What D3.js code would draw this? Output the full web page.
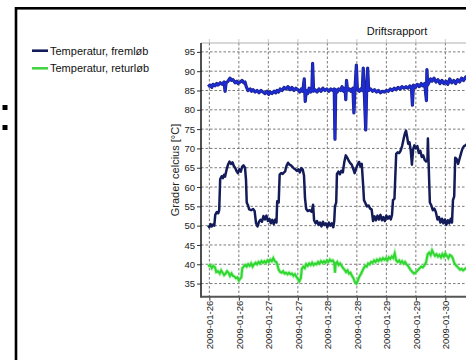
<!DOCTYPE html>
<html><head><meta charset="utf-8">
<script src="https://cdn.jsdelivr.net/npm/d3@7"></script>
<style>body{margin:0;background:#fff}svg{display:block;font-family:"Liberation Sans",Arial,sans-serif}</style>
</head><body><svg id="c" width="466" height="360"></svg>
<script>
// hours since 2009-01-26 00:00
const navyT=[-0.5,0,0.5,1,1.5,2,2.4,3,3.6,4,4.4,5,5.5,6,6.4,7,7.6,8.2,8.8,9.4,10,10.5,11,11.6,12.2,12.8,13.3,13.9,14.5,14.9,15.2,15.7,16.2,17,17.8,18.4,19,19.6,20.2,20.8,21.4,22,22.6,23.2,23.8,24.4,25,25.6,26.2,26.8,27.3,27.6,28.2,28.6,29.2,29.8,30.4,30.8,31.4,32,32.6,33.2,33.8,34.4,35,35.6,36.2,36.8,37.4,38,38.5,38.9,39.4,40,40.8,41.6,42.2,42.6,43.2,43.8,44.4,45,45.6,46.2,46.8,47.4,48,48.6,49.2,49.8,50.4,50.8,51.1,51.6,51.9,52.5,53.1,53.7,54.3,54.9,55.5,56.1,56.7,57.3,57.9,58.5,59.1,59.7,60.3,60.9,61.5,62,62.6,62.9,63.5,64.1,64.8,65.4,66,66.6,67.2,67.8,68.4,69,69.6,70.2,70.8,71.4,72,72.6,73.2,73.8,74.3,74.7,75.3,76,76.6,77.2,77.8,78.4,79,79.6,80,80.4,80.9,81.4,81.9,82.4,82.9,83.4,84,84.6,85.2,85.8,86.4,87,87.6,88.2,88.7,88.9,89.2,89.7,90.3,90.9,91.5,92.1,92.8,93.4,94,94.6,95.2,95.8,96.4,97,97.6,98.2,98.7,99.1,99.6,100,100.6,101.2,101.8,102.4,103,103.6,104.2,105];
const navyV=[50,49.6,50.4,49.8,50.3,50,52.8,53.5,53.2,54,62,62.8,62.3,63.2,62.7,64.5,65.8,66.6,66,66.4,65.4,65,64.2,63.6,64.6,64,65.2,65.6,65,62,56,55.3,54.2,54,54.3,53.8,50.6,49.8,51,51.5,51,52.5,51.6,52.6,51.2,51.8,50.6,51.5,50.4,51.6,50.8,56.3,56,63.2,63.6,63.4,63.8,64,65.5,66.3,65.8,65.6,65.2,64.8,64.6,64.2,64.6,63.8,64.9,64.5,63,57.2,54.3,53.8,54,53.6,55.4,51.4,50.6,51.2,50.2,50.8,49.8,51,50.2,50.6,49.6,50.8,50,50.6,49.6,51.2,55,56,63.4,64,63.3,64.2,63.8,66.5,68.2,67.6,66.8,66.2,65.8,64.8,63.6,64.8,65.8,66.5,65.3,66,60,56.6,55.8,55,55.2,54.4,54.2,51.2,52.4,51.4,52.6,51.6,52.8,51.4,52.2,51.2,52.6,51.8,52.4,51.6,52.8,56.6,57,68.6,69,68.8,69.4,70.6,72.4,74,74.6,73.2,71.2,71.6,69.6,65.8,69.8,70.8,70,70.6,68.8,69.4,67.8,68.2,67,66.6,66.8,72.6,66,56,55.2,54,54.4,53.6,51.6,52.2,50.8,51.8,50.6,51.6,50.2,51.4,50.6,51.8,50.8,56.6,57.6,67.6,67.2,66,67.4,68.8,70,70.6,70.8,71.2];
const blueT=[-0.5,0.3,1,1.5,2.3,3,3.5,4.4,5.2,6,6.4,6.8,7.6,8.4,9,9.6,10.5,11.2,11.7,12.5,13.3,14,14.5,15,15.7,16.6,17.2,17.8,18.6,19.4,20.2,21,21.8,22.7,23.5,24.2,24.7,25.5,26.3,27,27.5,28.2,28.8,29.6,30.4,31.2,32,32.8,33.6,34.4,35.2,36,36.8,37.4,38,38.6,39,39.4,40,40.6,41.2,41.7,42,42.4,43,43.8,44.6,45.4,46.2,47,47.8,48.6,49.4,50.2,50.8,51.1,51.4,52,52.6,53.4,54,54.6,55.2,55.5,55.8,56.2,57,57.6,58.4,58.8,59.2,59.8,60.2,61,61.6,62.2,62.6,63,63.6,64,64.4,64.8,65.6,66.4,67.2,68,68.8,69.6,70.4,71.2,72,72.8,73.6,74.4,75.2,76,76.8,77.6,78.4,79.2,80,80.8,81.6,82.2,82.6,83,83.8,84.6,85.4,86.2,86.8,87.6,88.3,88.5,88.8,89.4,90,90.6,91.4,92.2,93,93.8,94.6,95.4,96.2,97,97.8,98.6,99.4,100.2,101,101.8,102.6,103.4,104.2,105];
const blueV=[86,86.4,85.8,86.6,86.2,86.8,86.4,87,86.6,87.2,84.8,87,87.4,88.2,87.6,87.8,87,87.4,86.8,87.2,87.6,87,87.2,86,85,85.4,84.8,85.2,84.6,85,84.4,85,84.6,84.2,84.8,84,84.6,84.2,84.8,84.4,85,84.6,85.4,85,85.8,85.4,86,85.2,85.8,85,85.6,85.2,84.6,85.4,84.8,88,82.2,85,84.2,85.6,84.6,85.2,92,84.8,85.2,84.6,85.4,84.8,85.6,85,85.4,84.8,85.4,85,85.4,72.4,85.2,84.6,85.4,85,86,84.8,85.6,82.6,87.6,85,85.4,84.8,85.6,79.2,85,91.6,85.2,84.8,85.4,85,90.8,85.2,74.8,85.4,90.8,85,85.4,84.8,85.2,84.6,85,84.4,84.8,84.6,85,84.8,85.4,85,85.6,85.2,85.8,85.4,86,85.6,86,85.6,86.2,85.8,81.2,86.4,85.8,86.6,86,86.8,86.2,86.8,82.4,90.4,86.4,87.2,88,87.4,88.2,87.2,87.8,86.8,87.6,86.8,87.4,86.6,88,87,87.6,86.8,87.8,87.2,88.2,87.6,88.4,88.8];
const greenT=[-0.5,0.3,1,1.6,2.3,2.8,3.5,4.2,4.8,5.4,6,6.6,7.2,7.8,8.4,9,9.6,10.2,10.8,11.4,12,12.5,13,13.4,14,14.6,15.2,15.8,16.4,17,17.6,18.2,18.8,19.4,20,20.6,21.2,21.8,22.4,23,23.6,24.2,24.8,25.4,26,26.6,27.2,27.6,28.2,28.8,29.4,30,30.6,31.2,31.8,32.4,33,33.6,34.2,34.8,35.4,36,36.6,37.2,37.6,38.2,38.8,39.4,40,40.6,41.2,41.8,42.4,43,43.6,44.2,44.8,45.4,46,46.6,47.2,47.8,48.4,49,49.6,50.2,50.8,51.1,51.4,52,52.6,53.2,53.8,54.4,55,55.6,56.2,56.8,57.4,58,58.6,59.2,59.8,60.4,61,61.6,62.2,62.8,63.4,64,64.6,65.2,65.8,66.4,67,67.6,68.2,68.8,69.4,70,70.6,71.2,71.8,72.4,73,73.6,74.2,74.8,75.4,76,76.6,77.2,77.8,78.4,79,79.6,80.2,80.8,81.4,82,82.6,83.2,83.8,84.4,85,85.6,86.2,86.8,87.6,88.2,88.8,89.4,90,90.6,91.2,91.8,92.4,93,93.6,94.2,94.8,95.4,96,96.6,97.2,97.8,98.4,99,99.6,100.2,100.8,101.4,102,102.6,103.2,104,105];
const greenV=[39.4,39.8,39,39.6,39.2,38,38.2,37.6,38.4,37.8,37.2,37.6,38.2,37.8,37,37.6,37,36.8,36.4,36.6,35.8,36.2,36.6,39,39.4,39.8,39.4,40,39.6,40.2,39.4,40,40.4,40,40.6,40.2,40.8,40.4,40.8,40.4,41,40.6,41.2,40.8,41.6,40.8,40.6,40,38.6,38,37.8,38.2,37.6,37.8,37.4,37.8,37.4,37.6,37,37.4,36.8,36.2,35.6,36.4,38.8,39.4,39,40,39.6,40.2,39.8,40.4,39.8,40.2,40,40.6,40.2,40.8,40.4,40.8,40.4,41,40.6,41.2,40.8,41,40.4,37.8,40.2,40.6,39.8,40.2,39.6,39,38.6,38,38.4,37.6,37.8,37,36.4,35.4,35,35.8,36.8,37.4,38.2,39,39.6,39.4,40.2,40,40.6,40.4,41,40.6,41.2,40.8,41.4,41,41.6,41.2,41.6,41,41.8,41.4,42,41.6,42.8,41,40.6,41,40.4,40.8,40.2,40.6,40,39.6,39,38.4,38,37.6,37.8,38.2,38.6,39,39.4,39.2,39.8,40.6,42.6,43,42.4,43.6,42.8,42.2,42.6,42,42.4,41.8,42.6,42,42.8,42.2,41.6,42.4,42.2,41.6,40.4,39.8,39.4,39,38.6,38.8,38.4,38.8,39.2];
const yTicks=[35,40,45,50,55,60,65,70,75,80,85,90,95];
const legendLabels=["Temperatur, fremløb","Temperatur, returløb"];
const titleText="Driftsrapport";
const yLabel="Grader celcius [°C]";

const base=Date.UTC(2009,0,26,0,0);
const toDate=h=>new Date(base+h*3600e3);
const svg=d3.select("#c");
const L=201,T=43,B=296.7,R=500;
const x=d3.scaleUtc().domain([toDate(-3.4),toDate(-3.4+(R-L)/2.4583)]).range([L,R]);
const y=d3.scaleLinear().domain([31.6,97.3]).range([B,T]);

// frame / decorations
svg.append("rect").attr("x",16).attr("y",8.3).attr("width",600).attr("height",500).attr("fill","none").attr("stroke","#000").attr("stroke-width",2.6);
[105,125].forEach(v=>svg.append("rect").attr("x",2.5).attr("y",v).attr("width",5).attr("height",5).attr("fill","#000"));

// grid
const xt=x.ticks(d3.utcHour.every(12)).filter(d=>x(d)>=L && x(d)<=466+5);
svg.append("g").selectAll("line").data(yTicks).join("line")
 .attr("x1",L).attr("x2",R).attr("y1",d=>y(d)).attr("y2",d=>y(d))
 .attr("stroke","#7a7a7a").attr("stroke-width",1).attr("stroke-dasharray","2.5,2");
svg.append("g").selectAll("line").data(xt).join("line")
 .attr("x1",d=>x(d)).attr("x2",d=>x(d)).attr("y1",T).attr("y2",B)
 .attr("stroke","#7a7a7a").attr("stroke-width",1).attr("stroke-dasharray","2.5,2");
svg.append("g").selectAll("line").data(xt).join("line")
 .attr("x1",d=>x(d)).attr("x2",d=>x(d)).attr("y1",T-4).attr("y2",T)
 .attr("stroke","#ccc").attr("stroke-width",1);
svg.append("line").attr("x1",L).attr("x2",R).attr("y1",T).attr("y2",T).attr("stroke","#b0b0b0").attr("stroke-width",1.2);

// data lines
svg.append("clipPath").attr("id","clp").append("rect").attr("x",L).attr("y",T).attr("width",R-L).attr("height",B-T);
const line=d3.line().x(d=>x(toDate(d[0]))).y(d=>y(d[1]));
const g=svg.append("g").attr("clip-path","url(#clp)");
const z=(a,b)=>a.map((t,i)=>[t,b[i]]);
g.append("path").datum(z(greenT,greenV)).attr("d",line).attr("fill","none").attr("stroke","#8ae88a").attr("stroke-width",3.8).attr("stroke-opacity",0.5);
g.append("path").datum(z(greenT,greenV)).attr("d",line).attr("fill","none").attr("stroke","#2fd82f").attr("stroke-width",2.1);
g.append("path").datum(z(navyT,navyV)).attr("d",line).attr("fill","none").attr("stroke","#131c58").attr("stroke-width",2.5).attr("stroke-linejoin","round");
g.append("path").datum(z(blueT,blueV)).attr("d",line).attr("fill","none").attr("stroke","#1a237e").attr("stroke-width",3.2).attr("stroke-linejoin","round");
g.append("path").datum(z(blueT,blueV)).attr("d",line).attr("fill","none").attr("stroke","#1d2bd0").attr("stroke-width",2).attr("stroke-linejoin","round");

// axes
const ya=svg.append("g").attr("transform",`translate(${L},0)`).call(d3.axisLeft(y).tickValues(yTicks).tickSize(4).tickPadding(2));
ya.select(".domain").remove();
ya.selectAll("line").attr("stroke","#333");
ya.selectAll("text").attr("font-size","9.5px").attr("fill","#222").attr("font-family","Liberation Sans, Arial");
svg.append("line").attr("x1",L).attr("x2",L).attr("y1",T).attr("y2",B+1).attr("stroke","#222").attr("stroke-width",1.6);
const xa=svg.append("g").attr("transform",`translate(0,${B})`).call(d3.axisBottom(x).tickValues(xt).tickSize(4).tickFormat(d3.utcFormat("%Y-%m-%d")));
xa.select(".domain").remove();
xa.selectAll("line").attr("stroke","#333");
xa.selectAll("text").attr("font-size","9.5px").attr("fill","#222").attr("font-family","Liberation Sans, Arial")
 .attr("text-anchor","end").attr("transform","rotate(-90)").attr("x",-4).attr("y",0).attr("dy","0.35em");
svg.append("line").attr("x1",L).attr("x2",R).attr("y1",B).attr("y2",B).attr("stroke","#555").attr("stroke-width",2);

// labels
svg.append("text").attr("x",397).attr("y",35).attr("text-anchor","middle").attr("font-size","11px").attr("fill","#111").text(titleText);
svg.append("text").attr("transform","translate(179,170) rotate(-90)").attr("text-anchor","middle").attr("font-size","11px").attr("fill","#222").text(yLabel);

// legend
const legColors=["#131c58","#44d444"];
const lg=svg.append("g").selectAll("g").data(legendLabels).join("g").attr("transform",(d,i)=>`translate(0,${50.7+i*17.6})`);
lg.append("line").attr("x1",32).attr("x2",48).attr("stroke",(d,i)=>legColors[i]).attr("stroke-width",2.6);
lg.append("text").attr("x",50).attr("dy","0.35em").attr("font-size","11px").attr("fill","#111").text(d=>d);
</script></body></html>
